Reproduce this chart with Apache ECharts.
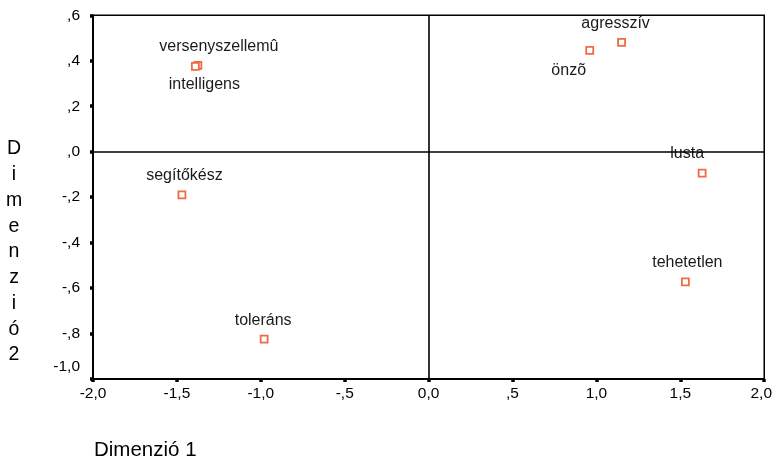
<!DOCTYPE html>
<html>
<head>
<meta charset="utf-8">
<script src="https://cdn.jsdelivr.net/npm/echarts@6/dist/echarts.min.js"></script>
<style>html,body{margin:0;padding:0;background:#fff;}#c{width:775px;height:462px;}</style>
</head>
<body>
<div id="c"></div>
<script>
// Data
var names = ['versenyszellemû', 'intelligens', 'segítőkész', 'toleráns', 'önzõ', 'agresszív', 'lusta', 'tehetetlen'];
var dim1 = [-1.375, -1.39, -1.47, -0.98, 0.96, 1.15, 1.63, 1.53];
var dim2 = [0.38, 0.375, -0.19, -0.825, 0.446, 0.481, -0.094, -0.573];
var xTickLabels = ['-2,0', '-1,5', '-1,0', '-,5', '0,0', ',5', '1,0', '1,5', '2,0'];
var yTickLabels = ['-1,0', '-,8', '-,6', '-,4', '-,2', ',0', ',2', ',4', ',6'];
var xTitle = 'Dimenzió 1';
var yTitle = 'Dimenzió 2';

// Label placement (style, not data)
var labelOffsets = {
  'versenyszellemû': [21, -18.5],
  'intelligens': [9, 18.5],
  'segítőkész': [2.5, -19],
  'toleráns': [-1, -19],
  'önzõ': [-21, 20.5],
  'agresszív': [-6, -19],
  'lusta': [-15, -19.5],
  'tehetetlen': [2, -19]
};

var FONT = 'Liberation Sans';
var xMin = -2, xMax = 2, xInt = 0.5;
var yMin = -1, yMax = 0.6, yInt = 0.2;

var points = names.map(function (n, i) {
  return {
    name: n,
    value: [dim1[i], dim2[i]],
    label: { offset: labelOffsets[n] }
  };
});

var chart = echarts.init(document.getElementById('c'));
chart.setOption({
  animation: false,
  backgroundColor: '#fff',
  grid: { left: 93, right: 10.5, top: 15.3, bottom: 83, show: true, borderColor: '#000', borderWidth: 1.5, backgroundColor: 'transparent' },
  xAxis: {
    type: 'value', min: xMin, max: xMax, interval: xInt,
    axisLine: { show: true, onZero: false, lineStyle: { color: '#000', width: 2 } },
    axisTick: { show: true, length: 3, lineStyle: { color: '#000', width: 3.5 } },
    splitLine: { show: false },
    axisLabel: {
      margin: 7, color: '#000', fontFamily: FONT, fontSize: 15.5,
      formatter: function (v) {
        var idx = Math.round((v - xMin) / xInt);
        var t = xTickLabels[idx];
        return idx === xTickLabels.length - 1 ? '{last|' + t + '}' : t;
      },
      rich: { last: { padding: [0, 6, 0, 0], color: '#000', fontFamily: FONT, fontSize: 15.5 } }
    }
  },
  yAxis: {
    type: 'value', min: yMin, max: yMax, interval: yInt,
    axisLine: { show: true, onZero: false, lineStyle: { color: '#000', width: 2 } },
    axisTick: { show: true, length: 3, lineStyle: { color: '#000', width: 3.5 } },
    splitLine: { show: false },
    axisLabel: {
      margin: 13, color: '#000', fontFamily: FONT, fontSize: 15.5,
      formatter: function (v) {
        var idx = Math.round((v - yMin) / yInt);
        var t = yTickLabels[idx];
        return idx === 0 ? '{low|' + t + '}' : t;
      },
      rich: { low: { padding: [0, 0, 25, 0], color: '#000', fontFamily: FONT, fontSize: 15.5 } }
    }
  },
  graphic: [
    { type: 'text', left: 94, top: 440, style: { text: xTitle, fontFamily: FONT, fontSize: 20.5, fill: '#000' } },
    { type: 'text', x: 14, y: 136, style: { text: yTitle.replace(' ', '').split('').join('\n'), fontFamily: FONT, fontSize: 19.5, lineHeight: 25.75, fill: '#000', align: 'center', verticalAlign: 'top' } }
  ],
  series: [{
    type: 'scatter',
    symbol: 'rect',
    symbolSize: 7,
    itemStyle: { color: '#fff', borderColor: '#f06a45', borderWidth: 1.8, opacity: 1 },
    label: { show: true, position: 'inside', formatter: '{b}', color: '#1a1a1a', fontFamily: FONT, fontSize: 16 },
    data: points,
    markLine: {
      silent: true, symbol: 'none', animation: false,
      label: { show: false },
      lineStyle: { color: '#000', width: 1.6, type: 'solid' },
      data: [{ xAxis: 0 }, { yAxis: 0 }]
    },
    z: 3
  }]
});
</script>
</body>
</html>
